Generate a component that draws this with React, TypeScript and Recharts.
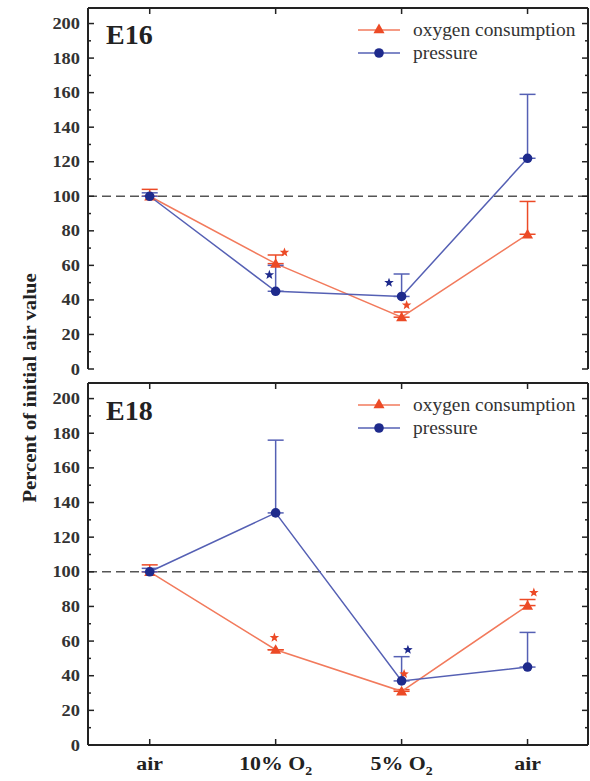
import {
  ComposedChart,
  Line,
  Scatter,
  XAxis,
  YAxis,
  ReferenceLine,
  ErrorBar,
  Legend,
} from 'recharts';

const FONT = '"Liberation Serif", "Times New Roman", serif';

const categories = ['air', '10% O2', '5% O2', 'air'];
const xPositions = [0, 1, 2, 3];
const yTicks = [0, 10, 20, 30, 40, 50, 60, 70, 80, 90, 100, 110, 120, 130, 140, 150, 160, 170, 180, 190, 200];

// E16
const e16Oxygen = [100, 61, 30, 78];
const e16OxygenErr = [4, 5, 3, 19];
const e16Pressure = [100, 45, 42, 122];
const e16PressureErr = [2, 15, 13, 37];
const e16OxygenStars = [{ x: 1.07, y: 67.5 }, { x: 2.04, y: 37 }];
const e16PressureStars = [{ x: 0.95, y: 54.5 }, { x: 1.9, y: 50 }];

// E18
const e18Oxygen = [100, 55, 31, 80.5];
const e18OxygenErr = [4, 0, 1, 3.5];
const e18Pressure = [100, 134, 37, 45];
const e18PressureErr = [2, 42, 14, 20];
const e18OxygenStars = [{ x: 0.99, y: 62 }, { x: 2.02, y: 41 }, { x: 3.05, y: 88 }];
const e18PressureStars = [{ x: 2.05, y: 55 }];

const ORANGE = '#ec4a26';
const ORANGE_LINE = '#f27a5c';
const BLUE = '#1e2a8c';
const BLUE_LINE = '#5560b4';
const AXIS = '#222';

const buildRows = (oxy: number[], oxyErr: number[], pres: number[], presErr: number[]) =>
  xPositions.map((x, i) => ({
    x,
    oxy: oxy[i],
    oxyErr: [0, oxyErr[i]],
    pres: pres[i],
    presErr: [0, presErr[i]],
  }));

const Triangle = ({ cx, cy, fill }: any) => {
  if (cx == null || cy == null) return null;
  const s = 5.5;
  return <polygon points={`${cx},${cy - s} ${cx - s},${cy + s * 0.75} ${cx + s},${cy + s * 0.75}`} fill={fill} />;
};

const Dot = ({ cx, cy, fill }: any) => {
  if (cx == null || cy == null) return null;
  return <circle cx={cx} cy={cy} r={4.8} fill={fill} />;
};

const Star = ({ cx, cy, fill }: any) => {
  if (cx == null || cy == null) return null;
  const pts = [];
  for (let k = 0; k < 10; k++) {
    const r = k % 2 === 0 ? 5 : 2.1;
    const a = -Math.PI / 2 + (k * Math.PI) / 5;
    pts.push(`${cx + r * Math.cos(a)},${cy + r * Math.sin(a)}`);
  }
  return <polygon points={pts.join(' ')} fill={fill} />;
};

const LeftTick = ({ x, y, payload }: any) => {
  const major = payload.value % 20 === 0;
  return (
    <g>
      <line x1={x} x2={x + (major ? 6 : 3)} y1={y} y2={y} stroke={AXIS} strokeWidth={1.5} />
      {major && (
        <text
          transform={`translate(${x - 8},${y + 5.5}) scale(1.15,1)`}
          textAnchor="end"
          fontFamily={FONT}
          fontWeight="bold"
          fontSize={16}
          fill="#333"
        >
          {payload.value}
        </text>
      )}
    </g>
  );
};

const RightTick = ({ x, y, payload }: any) => {
  const major = payload.value % 20 === 0;
  return <line x1={x} x2={x - (major ? 6 : 3)} y1={y} y2={y} stroke={AXIS} strokeWidth={1.5} />;
};

const TopTick = ({ x, y }: any) => (
  <line x1={x} x2={x} y1={y} y2={y + 6} stroke={AXIS} strokeWidth={1.5} />
);

const BottomTick = ({ x, y, payload, showLabel }: any) => {
  const label = categories[payload.value] ?? '';
  const sub = label.endsWith('O2');
  return (
    <g>
      <line x1={x} x2={x} y1={y} y2={y - 6} stroke={AXIS} strokeWidth={1.5} />
      {showLabel && (
        <text
          transform={`translate(${x},${y + 25}) scale(1.15,1)`}
          textAnchor="middle"
          fontFamily={FONT}
          fontWeight="bold"
          fontSize={19}
          fill="#222"
        >
          {sub ? (
            <>
              <tspan>{label.slice(0, -1)}</tspan>
              <tspan dy={5} fontSize={12}>2</tspan>
            </>
          ) : (
            label
          )}
        </text>
      )}
    </g>
  );
};

const LegendBox = () => (
  <svg width={235} height={50} style={{ display: 'block' }}>
    <line x1={3} x2={45} y1={14} y2={14} stroke={ORANGE_LINE} strokeWidth={1.5} />
    <Triangle cx={24} cy={13} fill={ORANGE} />
    <text transform="translate(58,20) scale(1.08,1)" fontFamily={FONT} fontSize={18} fill="#333">
      oxygen consumption
    </text>
    <line x1={3} x2={45} y1={37} y2={37} stroke={BLUE_LINE} strokeWidth={1.5} />
    <Dot cx={24} cy={37} fill={BLUE} />
    <text transform="translate(58,43) scale(1.08,1)" fontFamily={FONT} fontSize={18} fill="#333">
      pressure
    </text>
  </svg>
);

const Panel = ({ rows, oxyStars, presStars, height, bottomHeight, marginBottom, showLabel }: any) => (
  <ComposedChart
    width={590}
    height={height}
    data={rows}
    margin={{ top: 7, right: 0, bottom: marginBottom, left: 0 }}
  >
    <XAxis
      xAxisId="b"
      dataKey="x"
      type="number"
      domain={[-0.49, 3.48]}
      ticks={xPositions}
      interval={0}
      height={bottomHeight}
      tickSize={0}
      tickMargin={0}
      tickLine={false}
      axisLine={{ stroke: AXIS, strokeWidth: 2 }}
      tick={(p: any) => <BottomTick {...p} showLabel={showLabel} />}
    />
    <XAxis
      xAxisId="t"
      orientation="top"
      dataKey="x"
      type="number"
      domain={[-0.49, 3.48]}
      ticks={xPositions}
      interval={0}
      height={1}
      tickSize={0}
      tickMargin={0}
      tickLine={false}
      axisLine={{ stroke: AXIS, strokeWidth: 2 }}
      tick={(p: any) => <TopTick {...p} />}
    />
    <YAxis
      yAxisId="l"
      type="number"
      domain={[0, 209]}
      ticks={yTicks}
      interval={0}
      width={88}
      tickSize={0}
      tickMargin={0}
      tickLine={false}
      axisLine={{ stroke: AXIS, strokeWidth: 2 }}
      tick={(p: any) => <LeftTick {...p} />}
    />
    <YAxis
      yAxisId="r"
      orientation="right"
      type="number"
      domain={[0, 209]}
      ticks={yTicks}
      interval={0}
      width={2}
      tickSize={0}
      tickMargin={0}
      tickLine={false}
      axisLine={{ stroke: AXIS, strokeWidth: 2 }}
      tick={(p: any) => <RightTick {...p} />}
    />
    <ReferenceLine xAxisId="b" yAxisId="l" y={100} stroke="#555" strokeWidth={1.5} strokeDasharray="9 5" />
    <Line
      xAxisId="b"
      yAxisId="l"
      dataKey="oxy"
      type="linear"
      stroke={ORANGE_LINE}
      strokeWidth={1.5}
      dot={(p: any) => <Triangle key={`o${p.index}`} cx={p.cx} cy={p.cy} fill={ORANGE} />}
      activeDot={false}
      isAnimationActive={false}
    >
      <ErrorBar dataKey="oxyErr" direction="y" width={8} stroke={ORANGE} strokeWidth={1.5} />
    </Line>
    <Line
      xAxisId="b"
      yAxisId="l"
      dataKey="pres"
      type="linear"
      stroke={BLUE_LINE}
      strokeWidth={1.5}
      dot={(p: any) => <Dot key={`p${p.index}`} cx={p.cx} cy={p.cy} fill={BLUE} />}
      activeDot={false}
      isAnimationActive={false}
    >
      <ErrorBar dataKey="presErr" direction="y" width={8} stroke={BLUE_LINE} strokeWidth={1.5} />
    </Line>
    {/* stars share the same scales through the mirrored top/right axes */}
    <Scatter
      xAxisId="t"
      yAxisId="r"
      data={oxyStars}
      dataKey="y"
      fill={ORANGE}
      shape={(p: any) => <Star {...p} fill={ORANGE} />}
      isAnimationActive={false}
    />
    <Scatter
      xAxisId="t"
      yAxisId="r"
      data={presStars}
      dataKey="y"
      fill={BLUE}
      shape={(p: any) => <Star {...p} fill={BLUE} />}
      isAnimationActive={false}
    />
    <Legend
      layout="horizontal"
      align="center"
      verticalAlign="middle"
      content={() => <LegendBox />}
      wrapperStyle={{ position: 'absolute', left: 355, top: 16, width: 235, height: 50 }}
    />
  </ComposedChart>
);

const panelLabel = (text: string, top: number) => (
  <div
    style={{
      position: 'absolute',
      left: 106,
      top,
      fontFamily: FONT,
      fontWeight: 'bold',
      fontSize: 28,
      lineHeight: '28px',
      color: '#222',
    }}
  >
    {text}
  </div>
);

export default function App() {
  return (
    <div style={{ position: 'absolute', left: 0, top: 0, width: 590, height: 781, background: '#fff' }}>
      <div style={{ position: 'absolute', left: 0, top: 0 }}>
        <Panel
          rows={buildRows(e16Oxygen, e16OxygenErr, e16Pressure, e16PressureErr)}
          oxyStars={e16OxygenStars}
          presStars={e16PressureStars}
          height={380}
          bottomHeight={0}
          marginBottom={11}
          showLabel={false}
        />
      </div>
      <div style={{ position: 'absolute', left: 0, top: 375 }}>
        <Panel
          rows={buildRows(e18Oxygen, e18OxygenErr, e18Pressure, e18PressureErr)}
          oxyStars={e18OxygenStars}
          presStars={e18PressureStars}
          height={406}
          bottomHeight={36}
          marginBottom={0}
          showLabel={true}
        />
      </div>
      {panelLabel('E16', 21)}
      {panelLabel('E18', 397)}
      <div
        style={{
          position: 'absolute',
          left: 30 - 150,
          top: 388 - 11,
          width: 300,
          textAlign: 'center',
          transform: 'rotate(-90deg) scaleX(1.15)',
          fontFamily: FONT,
          fontWeight: 'bold',
          fontSize: 18,
          lineHeight: '22px',
          color: '#222',
        }}
      >
        Percent of initial air value
      </div>
    </div>
  );
}
